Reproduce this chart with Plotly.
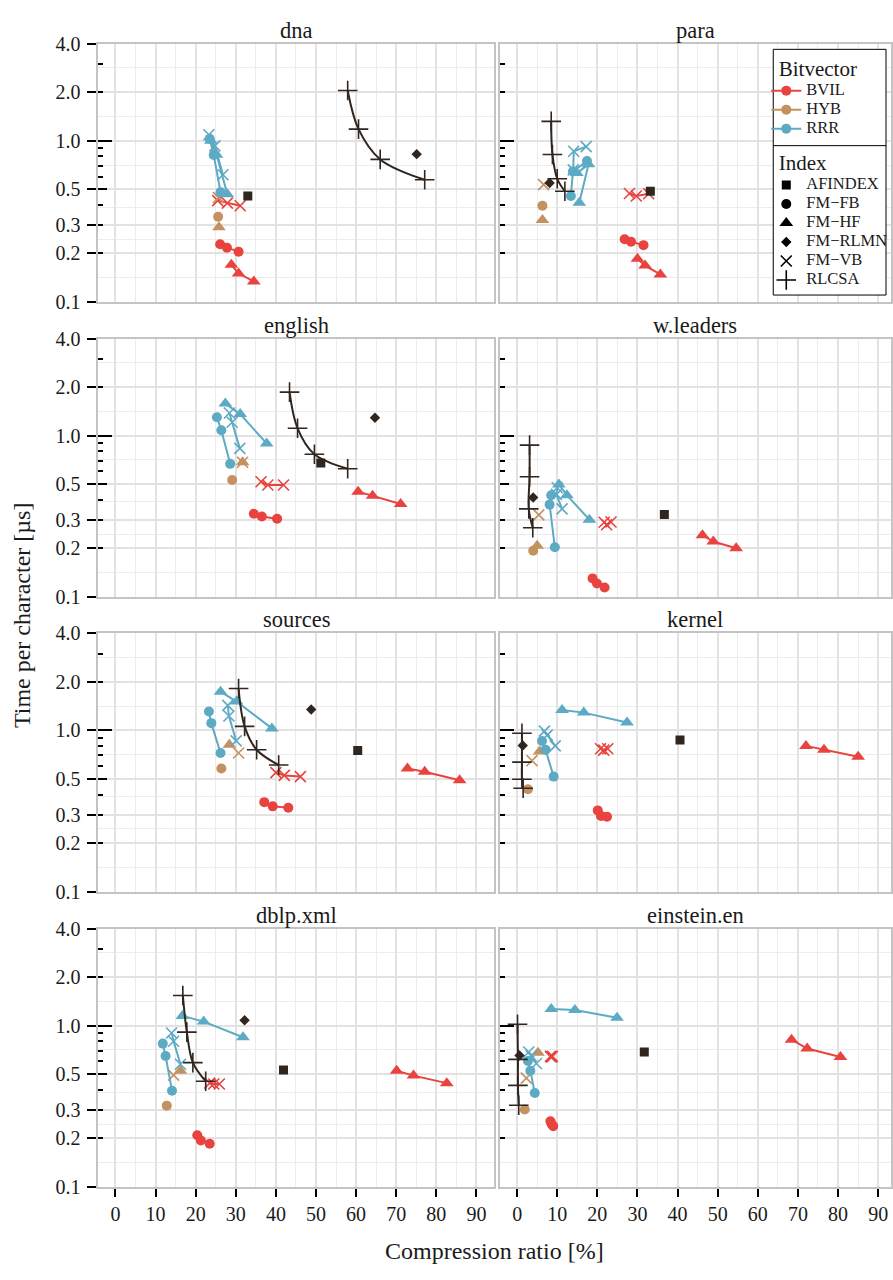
import numpy as np
import plotly.graph_objects as go

# ---------------- data (compression ratio [%], time per character [us]) ----------------
DATASETS = ["dna", "para", "english", "w.leaders", "sources", "kernel", "dblp.xml", "einstein.en"]

BVIL_FB_X = [[26.1, 27.8, 30.7], [26.8, 28.4, 31.5], [34.5, 36.5, 40.3], [18.8, 19.9, 21.8],
             [37.1, 39.2, 43.1], [20.1, 20.9, 22.4], [20.4, 21.3, 23.5], [8.3, 8.6, 9.0]]
BVIL_FB_Y = [[0.228, 0.217, 0.205], [0.245, 0.236, 0.225], [0.327, 0.315, 0.305], [0.130, 0.121, 0.114],
             [0.359, 0.338, 0.331], [0.319, 0.295, 0.291], [0.209, 0.194, 0.185], [0.255, 0.245, 0.238]]
BVIL_HF_X = [[28.9, 30.7, 34.5], [30.0, 31.9, 35.7], [60.5, 64.1, 71.1], [46.2, 48.9, 54.6],
             [72.8, 77.1, 85.8], [72.0, 76.5, 85.0], [70.1, 74.3, 82.6], [68.4, 72.3, 80.6]]
BVIL_HF_Y = [[0.170, 0.150, 0.134], [0.185, 0.168, 0.148], [0.449, 0.423, 0.376], [0.241, 0.220, 0.200],
             [0.581, 0.555, 0.491], [0.802, 0.759, 0.686], [0.525, 0.490, 0.440], [0.819, 0.721, 0.639]]
BVIL_VB_X = [[25.5, 27.9, 31.1], [28.0, 29.7, 32.8], [36.3, 38.0, 41.9], [21.7, 22.3, 23.4],
             [40.0, 42.1, 46.1], [20.8, 21.6, 22.6], [23.5, 24.5, 25.9], [8.3, 8.5, 8.8]]
BVIL_VB_Y = [[0.425, 0.410, 0.395], [0.471, 0.454, 0.469], [0.517, 0.494, 0.494], [0.290, 0.280, 0.291],
             [0.547, 0.526, 0.517], [0.770, 0.755, 0.770], [0.440, 0.435, 0.435], [0.645, 0.640, 0.645]]

HYB_FB_X = [[25.6], [6.3], [29.1], [4.0], [26.4], [2.7], [12.8], [1.9]]
HYB_FB_Y = [[0.338], [0.395], [0.530], [0.193], [0.581], [0.432], [0.319], [0.302]]
HYB_HF_X = [[25.8], [6.3], [31.7], [5.0], [28.4], [5.6], [16.2], [5.2]]
HYB_HF_Y = [[0.291], [0.322], [0.683], [0.207], [0.815], [0.741], [0.525], [0.679]]
HYB_VB_X = [[25.7], [6.6], [31.7], [5.4], [30.7], [3.7], [14.5], [2.3]]
HYB_VB_Y = [[0.444], [0.534], [0.683], [0.322], [0.725], [0.650], [0.493], [0.473]]

RRR_FB_X = [[23.5, 24.5, 26.2], [17.4, 13.9, 13.4], [25.3, 26.4, 28.6], [8.5, 8.1, 9.4],
            [23.3, 23.9, 26.2], [6.2, 7.1, 9.1], [11.8, 12.5, 14.1], [2.7, 3.3, 4.4]]
RRR_FB_Y = [[1.03, 0.815, 0.48], [0.748, 0.644, 0.454], [1.30, 1.08, 0.668], [0.427, 0.373, 0.203],
            [1.31, 1.11, 0.725], [0.861, 0.759, 0.517], [0.774, 0.648, 0.395], [0.604, 0.525, 0.382]]
RRR_HF_X = [[23.8, 25.2, 27.9], [14.9, 17.8, 15.5], [27.4, 31.1, 37.7], [10.4, 12.4, 18.0],
            [26.2, 30.2, 39.0], [11.2, 16.6, 27.4], [16.7, 22.0, 31.8], [8.5, 14.4, 24.9]]
RRR_HF_Y = [[1.00, 0.82, 0.465], [0.630, 0.714, 0.413], [1.58, 1.36, 0.894], [0.498, 0.427, 0.301],
            [1.74, 1.51, 1.03], [1.34, 1.29, 1.12], [1.15, 1.06, 0.847], [1.27, 1.25, 1.12]]
RRR_VB_X = [[23.3, 24.8, 26.8], [14.0, 14.1, 17.2], [28.4, 29.1, 31.0], [10.0, 9.8, 11.2],
            [28.0, 28.3, 30.1], [6.8, 7.5, 9.5], [14.0, 14.5, 16.2], [2.9, 3.5, 4.8]]
RRR_VB_Y = [[1.09, 0.93, 0.615], [0.66, 0.86, 0.92], [1.38, 1.21, 0.833], [0.475, 0.432, 0.351],
            [1.43, 1.23, 0.861], [0.99, 0.936, 0.802], [0.90, 0.80, 0.576], [0.686, 0.65, 0.583]]

RLCSA_X = [[57.9, 60.6, 66.0, 77.1], [8.5, 8.8, 10.0, 11.9], [43.4, 45.4, 49.6, 57.9], [3.1, 3.1, 2.9, 3.9],
           [30.7, 32.2, 35.2, 40.7], [1.2, 1.2, 1.2, 1.5], [16.8, 17.8, 19.3, 22.5], [0.1, 0.2, 0.2, 0.4]]
RLCSA_Y = [[2.05, 1.18, 0.766, 0.573], [1.32, 0.822, 0.581, 0.486], [1.86, 1.11, 0.766, 0.623],
           [0.873, 0.555, 0.351, 0.268], [1.82, 1.06, 0.759, 0.610], [0.96, 0.636, 0.498, 0.438],
           [1.54, 0.912, 0.590, 0.452], [1.02, 0.618, 0.426, 0.321]]
RLMN_X = [75.1, 8.1, 64.7, 4.0, 48.8, 1.4, 32.2, 0.6]
RLMN_Y = [0.826, 0.547, 1.29, 0.413, 1.35, 0.807, 1.08, 0.653]
AFINDEX_X = [33.0, 33.2, 51.2, 36.7, 60.4, 40.6, 41.9, 31.7]
AFINDEX_Y = [0.454, 0.486, 0.675, 0.324, 0.752, 0.873, 0.530, 0.686]

BITVECTORS = ["BVIL", "HYB", "RRR"]
INDEXES = ["AFINDEX", "FM−FB", "FM−HF", "FM−RLMN", "FM−VB", "RLCSA"]
Y_MAJOR = [0.1, 0.2, 0.3, 0.5, 1.0, 2.0, 4.0]
Y_MAJOR_TEXT = ["0.1", "0.2", "0.3", "0.5", "1.0", "2.0", "4.0"]
X_MAJOR = list(range(0, 100, 10))
X_MINOR = list(range(5, 100, 10))
LOG_SHORT = [0.2, 0.3, 0.4, 0.6, 0.7, 0.8, 0.9, 2.0, 3.0, 4.0]
LOG_MID = [0.5]
LOG_LONG = [0.1, 1.0]

# ---------------- styling ----------------
FONT = "Liberation Serif"
TXT = "#1a1a1a"
COLORS = {"BVIL": "#e8433f", "HYB": "#c49160", "RRR": "#5caac4"}
DARK = "#2f2620"
MAJ_GRID = "#e2e2e2"
MIN_GRID = "#ececec"
BORDER = "#c4c4c4"
SYM = {"AFINDEX": dict(symbol="square", size=9),
       "FM−FB": dict(symbol="circle", size=10),
       "FM−HF": dict(symbol="triangle-up", size=12),
       "FM−RLMN": dict(symbol="diamond", size=8),
       "FM−VB": dict(symbol="x-thin-open", size=11),
       "RLCSA": dict(symbol="cross-thin-open", size=14)}

W, H = 893, 1280
COL_X = [(98.7, 495.0), (501.0, 893.0)]
XR = [(-4.23, 94.35), (-4.3, 93.2)]
ROW_TOP = [33.3, 333.3, 633.3, 933.7]
PANEL_H = 262.7
YR = [np.log10(0.1), np.log10(4.0)]
Y_MINOR = list(np.sqrt(np.array(Y_MAJOR[:-1]) * np.array(Y_MAJOR[1:])))
TICKFONT = dict(size=20, color=TXT, family=FONT)

SERIES = [
    ("BVIL", "FM−FB", BVIL_FB_X, BVIL_FB_Y), ("BVIL", "FM−HF", BVIL_HF_X, BVIL_HF_Y),
    ("BVIL", "FM−VB", BVIL_VB_X, BVIL_VB_Y),
    ("HYB", "FM−FB", HYB_FB_X, HYB_FB_Y), ("HYB", "FM−HF", HYB_HF_X, HYB_HF_Y),
    ("HYB", "FM−VB", HYB_VB_X, HYB_VB_Y),
    ("RRR", "FM−FB", RRR_FB_X, RRR_FB_Y), ("RRR", "FM−HF", RRR_HF_X, RRR_HF_Y),
    ("RRR", "FM−VB", RRR_VB_X, RRR_VB_Y),
]


def marker(idx, color):
    m = dict(SYM[idx])
    m["color"] = color
    if "thin" in m["symbol"]:
        m["line"] = dict(width=1.6, color=color)
    else:
        m["line"] = dict(width=0)
    return m


def big(txt):
    return f'<span style="font-size:16.5px">{txt}</span>'


fig = go.Figure()
layout = {}
annotations = []

for i, name in enumerate(DATASETS):
    row, col = divmod(i, 2)
    n = i + 1
    xr = "x" if n == 1 else f"x{n}"
    yr = "y" if n == 1 else f"y{n}"
    xk = "xaxis" if n == 1 else f"xaxis{n}"
    yk = "yaxis" if n == 1 else f"yaxis{n}"
    ns, nl = 9 + i, 17 + i
    x0, x1 = COL_X[col]
    top = ROW_TOP[row]
    ydom = [(H - top - PANEL_H) / H, (H - top) / H]
    xdom = [x0 / W, x1 / W]

    layout[xk] = dict(domain=xdom, range=list(XR[col]), anchor=yr, tickvals=X_MAJOR,
                      showticklabels=(row == 3), ticks="outside" if row == 3 else "",
                      ticklen=8, tickwidth=1.5, tickcolor="black", tickfont=TICKFONT,
                      showgrid=True, gridcolor=MAJ_GRID, gridwidth=2,
                      minor=dict(tickvals=X_MINOR, showgrid=True, gridcolor=MIN_GRID, gridwidth=1, ticks=""),
                      showline=True, linecolor=BORDER, linewidth=2, mirror=True, zeroline=False)
    layout[yk] = dict(domain=ydom, range=YR, type="log", anchor=xr, tickvals=Y_MAJOR, ticktext=Y_MAJOR_TEXT,
                      showticklabels=(col == 0), ticks="outside" if col == 0 else "",
                      ticklen=9, tickwidth=1.5, tickcolor="black", tickfont=TICKFONT,
                      ticklabelstandoff=3,
                      showgrid=True, gridcolor=MAJ_GRID, gridwidth=2,
                      minor=dict(tickvals=Y_MINOR, showgrid=True, gridcolor=MIN_GRID, gridwidth=1, ticks=""),
                      showline=True, linecolor=BORDER, linewidth=2, mirror=True, zeroline=False)
    # log tick marks drawn inside the panel (short / mid / long)
    layout[f"yaxis{ns}"] = dict(range=YR, type="log", overlaying=yr, anchor=xr, side="left",
                                tickvals=LOG_SHORT, ticks="inside", ticklen=5, tickwidth=1.5, tickcolor="black",
                                showticklabels=False, showgrid=False, showline=False, zeroline=False)
    layout[f"yaxis{nl}"] = dict(range=YR, type="log", overlaying=yr, anchor=xr, side="left",
                                tickvals=LOG_LONG, ticks="inside", ticklen=14, tickwidth=1.5, tickcolor="black",
                                minor=dict(tickvals=LOG_MID, ticks="inside", ticklen=9, tickwidth=1.5,
                                           tickcolor="black", showgrid=False),
                                showticklabels=False, showgrid=False, showline=False, zeroline=False)
    for na in (ns, nl):
        fig.add_trace(go.Scatter(x=[None], y=[None], xaxis=xr, yaxis=f"y{na}", mode="markers",
                                 showlegend=False, hoverinfo="skip"))

    for bv, idx, XS, YS in SERIES:
        c = COLORS[bv]
        fig.add_trace(go.Scatter(x=XS[i], y=YS[i], xaxis=xr, yaxis=yr, mode="lines+markers",
                                 line=dict(color=c, width=2), marker=marker(idx, c),
                                 showlegend=False, name=f"{bv} {idx}"))
    fig.add_trace(go.Scatter(x=[AFINDEX_X[i]], y=[AFINDEX_Y[i]], xaxis=xr, yaxis=yr, mode="markers",
                             marker=marker("AFINDEX", DARK), showlegend=False, name="AFINDEX"))
    fig.add_trace(go.Scatter(x=[RLMN_X[i]], y=[RLMN_Y[i]], xaxis=xr, yaxis=yr, mode="markers",
                             marker=marker("FM−RLMN", DARK), showlegend=False, name="FM−RLMN"))
    fig.add_trace(go.Scatter(x=RLCSA_X[i], y=RLCSA_Y[i], xaxis=xr, yaxis=yr, mode="lines+markers",
                             line=dict(color=DARK, width=2, shape="spline", smoothing=1.0),
                             marker=marker("RLCSA", DARK), showlegend=False, name="RLCSA"))

    annotations.append(dict(text=name, xref=f"{xr} domain", x=0.5, yref="paper", y=ydom[1],
                            xanchor="center", yanchor="bottom", yshift=-1, showarrow=False,
                            font=dict(size=22.5, color=TXT, family=FONT)))

for bv in BITVECTORS:
    fig.add_trace(go.Scatter(x=[None], y=[None], mode="lines+markers", name=big(bv), legend="legend",
                             line=dict(color=COLORS[bv], width=2),
                             marker=dict(symbol="circle", size=10, color=COLORS[bv])))
for idx in INDEXES:
    fig.add_trace(go.Scatter(x=[None], y=[None], mode="markers", name=big(idx), legend="legend2",
                             marker=marker(idx, "black")))

annotations.append(dict(text="Compression ratio [%]", xref="paper", yref="paper",
                        x=(98.7 + 893) / 2 / W, y=(H - 1262) / H, xanchor="center", yanchor="middle",
                        showarrow=False, font=dict(size=24, color=TXT, family=FONT)))
annotations.append(dict(text="Time per character [µs]", xref="paper", yref="paper", textangle=-90,
                        x=22 / W, y=(H - 614.7) / H, xanchor="center", yanchor="middle",
                        showarrow=False, font=dict(size=24, color=TXT, family=FONT)))

shapes = [
    dict(type="rect", xref="paper", yref="paper", x0=775 / W, x1=888 / W, y0=(H - 289) / H, y1=(H - 39) / H,
         line=dict(color="black", width=1), fillcolor="white", layer="above"),
    dict(type="line", xref="paper", yref="paper", x0=775 / W, x1=888 / W, y0=(H - 137) / H, y1=(H - 137) / H,
         line=dict(color="black", width=1), layer="above"),
]

leg_common = dict(xanchor="left", yanchor="top", bgcolor="rgba(0,0,0,0)", borderwidth=0,
                  font=dict(size=11, color=TXT, family=FONT), tracegroupgap=0)
TITLE_FONT = dict(size=21, family=FONT, color=TXT)
fig.update_layout(
    width=W, height=H, margin=dict(l=0, r=0, t=0, b=0),
    paper_bgcolor="white", plot_bgcolor="white",
    font=dict(family=FONT, color=TXT),
    hovermode=False,
    annotations=annotations, shapes=shapes,
    legend=dict(x=768 / W, y=(H - 38.5) / H, title=dict(text="\u00a0\u00a0Bitvector", font=TITLE_FONT),
                **leg_common),
    legend2=dict(x=768 / W, y=(H - 134.5) / H, title=dict(text="\u00a0\u00a0Index", font=TITLE_FONT),
                 **leg_common),
    **layout,
)

fig.write_html("out.html")
